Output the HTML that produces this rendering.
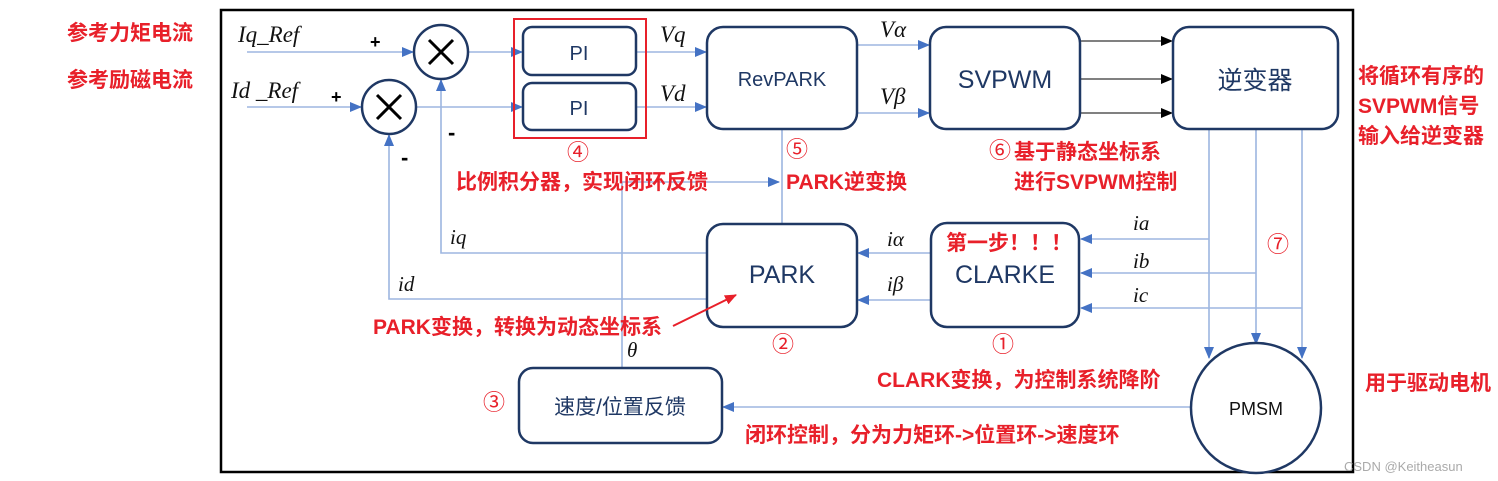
<!DOCTYPE html>
<html><head><meta charset="utf-8"><style>
html,body{margin:0;padding:0;background:#fff;}
svg{display:block;}
.red{fill:#e8202a;font-weight:bold;font-size:21px;font-family:"Liberation Sans","Noto Sans CJK SC",sans-serif;}
.it{font-family:"Liberation Serif",serif;font-style:italic;fill:#111;}
.box{fill:#fff;stroke:#1f3864;stroke-width:2.5;}
.bl{stroke:#9db6e0;stroke-width:1.6;fill:none;}
.lbl{fill:#1f3864;font-family:"Liberation Sans","Noto Sans CJK SC",sans-serif;}
.num{fill:#e8202a;font-size:22px;font-family:"Liberation Sans","Noto Sans CJK SC",sans-serif;}
</style></head><body>
<svg width="1498" height="481" viewBox="0 0 1498 481" xmlns="http://www.w3.org/2000/svg">
<defs>
<marker id="a" markerWidth="12" markerHeight="12" refX="11" refY="6" orient="auto" markerUnits="userSpaceOnUse"><path d="M0,1 L12,6 L0,11 Z" fill="#4472c4"/></marker>
<marker id="k" markerWidth="12" markerHeight="12" refX="11" refY="6" orient="auto" markerUnits="userSpaceOnUse"><path d="M0,1 L12,6 L0,11 Z" fill="#000"/></marker>
<marker id="r" markerWidth="12" markerHeight="12" refX="11" refY="6" orient="auto" markerUnits="userSpaceOnUse"><path d="M0,1 L12,6 L0,11 Z" fill="#e8202a"/></marker>
</defs>
<rect x="221" y="10" width="1132" height="462" fill="none" stroke="#000" stroke-width="2.5"/>

<line class="bl" x1="247" y1="52" x2="413" y2="52" marker-end="url(#a)"/>
<line class="bl" x1="247" y1="107" x2="361" y2="107" marker-end="url(#a)"/>
<line class="bl" x1="468" y1="52" x2="522" y2="52" marker-end="url(#a)"/>
<line class="bl" x1="416" y1="107" x2="522" y2="107" marker-end="url(#a)"/>
<line class="bl" x1="636" y1="52" x2="706" y2="52" marker-end="url(#a)"/>
<line class="bl" x1="636" y1="107" x2="706" y2="107" marker-end="url(#a)"/>
<line class="bl" x1="857" y1="45" x2="929" y2="45" marker-end="url(#a)"/>
<line class="bl" x1="857" y1="113" x2="929" y2="113" marker-end="url(#a)"/>
<line x1="1080" y1="41" x2="1172" y2="41" stroke="#000" stroke-width="1" marker-end="url(#k)"/>
<line x1="1080" y1="79" x2="1172" y2="79" stroke="#000" stroke-width="1" marker-end="url(#k)"/>
<line x1="1080" y1="113" x2="1172" y2="113" stroke="#000" stroke-width="1" marker-end="url(#k)"/>
<line class="bl" x1="1209" y1="129" x2="1209" y2="358" marker-end="url(#a)"/>
<line class="bl" x1="1256" y1="129" x2="1256" y2="344" marker-end="url(#a)"/>
<line class="bl" x1="1302" y1="129" x2="1302" y2="358" marker-end="url(#a)"/>
<line class="bl" x1="1209" y1="239" x2="1081" y2="239" marker-end="url(#a)"/>
<line class="bl" x1="1256" y1="273" x2="1081" y2="273" marker-end="url(#a)"/>
<line class="bl" x1="1302" y1="308" x2="1081" y2="308" marker-end="url(#a)"/>
<line class="bl" x1="930" y1="253" x2="858" y2="253" marker-end="url(#a)"/>
<line class="bl" x1="930" y1="300" x2="858" y2="300" marker-end="url(#a)"/>
<polyline class="bl" points="707,253 441,253 441,80" marker-end="url(#a)"/>
<polyline class="bl" points="707,299 389,299 389,135" marker-end="url(#a)"/>
<polyline class="bl" points="622,368 622,182 779,182" marker-end="url(#a)"/>
<line class="bl" x1="782" y1="129" x2="782" y2="224"/>
<line class="bl" x1="1190" y1="407" x2="723" y2="407" marker-end="url(#a)"/>

<circle cx="441" cy="52" r="27" fill="#fff" stroke="#1f3864" stroke-width="2.5"/>
<path d="M429,40 L453,64 M453,40 L429,64" stroke="#000" stroke-width="3"/>
<circle cx="389" cy="107" r="27" fill="#fff" stroke="#1f3864" stroke-width="2.5"/>
<path d="M377,95 L401,119 M401,95 L377,119" stroke="#000" stroke-width="3"/>

<rect x="514" y="19" width="132" height="119" fill="none" stroke="#e8202a" stroke-width="2"/>
<rect class="box" x="523" y="27" width="113" height="48" rx="9"/>
<rect class="box" x="523" y="83" width="113" height="47" rx="9"/>
<rect class="box" x="707" y="27" width="150" height="102" rx="16"/>
<rect class="box" x="930" y="27" width="150" height="102" rx="16"/>
<rect class="box" x="1173" y="27" width="165" height="102" rx="16"/>
<rect class="box" x="707" y="224" width="150" height="103" rx="16"/>
<rect class="box" x="931" y="223" width="148" height="104" rx="16"/>
<rect class="box" x="519" y="368" width="203" height="75" rx="14"/>
<circle cx="1256" cy="408" r="65" fill="#fff" stroke="#1f3864" stroke-width="2.5"/>

<text class="lbl" x="579" y="60" font-size="20" text-anchor="middle">PI</text>
<text class="lbl" x="579" y="115" font-size="20" text-anchor="middle">PI</text>
<text class="lbl" x="782" y="86" font-size="20" text-anchor="middle">RevPARK</text>
<text class="lbl" x="1005" y="88" font-size="25" text-anchor="middle">SVPWM</text>
<text class="lbl" x="1255" y="89" font-size="25" text-anchor="middle">逆变器</text>
<text class="lbl" x="782" y="283" font-size="25" text-anchor="middle">PARK</text>
<text class="lbl" x="1005" y="283" font-size="25" text-anchor="middle">CLARKE</text>
<text class="lbl" x="620" y="414" font-size="21" text-anchor="middle">速度/位置反馈</text>
<text x="1256" y="415" font-size="18" text-anchor="middle" fill="#111" font-family="Liberation Sans,sans-serif">PMSM</text>

<text class="it" x="238" y="42" font-size="23">Iq_Ref</text>
<text class="it" x="231" y="98" font-size="23">Id _Ref</text>
<text x="370" y="48" font-size="18" font-family="Liberation Sans,sans-serif" font-weight="bold">+</text>
<text x="331" y="103" font-size="18" font-family="Liberation Sans,sans-serif" font-weight="bold">+</text>
<text x="448" y="140" font-size="22" font-family="Liberation Sans,sans-serif" font-weight="bold">-</text>
<text x="401" y="165" font-size="22" font-family="Liberation Sans,sans-serif" font-weight="bold">-</text>
<text class="it" x="660" y="42" font-size="23">Vq</text>
<text class="it" x="660" y="101" font-size="23">Vd</text>
<text class="it" x="880" y="37" font-size="23">Vα</text>
<text class="it" x="880" y="104" font-size="23">Vβ</text>
<text class="it" x="450" y="244" font-size="21">iq</text>
<text class="it" x="398" y="291" font-size="21">id</text>
<text class="it" x="627" y="357" font-size="21">θ</text>
<text class="it" x="887" y="246" font-size="21">iα</text>
<text class="it" x="887" y="291" font-size="21">iβ</text>
<text class="it" x="1133" y="230" font-size="21">ia</text>
<text class="it" x="1133" y="268" font-size="21">ib</text>
<text class="it" x="1133" y="302" font-size="21">ic</text>

<text class="num" x="578" y="160" text-anchor="middle">④</text>
<text class="num" x="797" y="157" text-anchor="middle">⑤</text>
<text class="num" x="1000" y="158" text-anchor="middle">⑥</text>
<text class="num" x="1278" y="252" text-anchor="middle">⑦</text>
<text class="num" x="783" y="352" text-anchor="middle">②</text>
<text class="num" x="1003" y="352" text-anchor="middle">①</text>
<text class="num" x="494" y="410" text-anchor="middle">③</text>

<text class="red" x="67" y="40">参考力矩电流</text>
<text class="red" x="67" y="87">参考励磁电流</text>
<text class="red" x="456" y="189">比例积分器，实现闭环反馈</text>
<text class="red" x="786" y="189">PARK逆变换</text>
<text class="red" x="1014" y="159">基于静态坐标系</text>
<text class="red" x="1014" y="189">进行SVPWM控制</text>
<text class="red" x="946" y="250" font-size="20">第一步！！！</text>
<text class="red" x="373" y="334">PARK变换，转换为动态坐标系</text>
<line x1="673" y1="326" x2="736" y2="295" stroke="#e8202a" stroke-width="2" marker-end="url(#r)"/>
<text class="red" x="877" y="387">CLARK变换，为控制系统降阶</text>
<text class="red" x="745" y="442">闭环控制，分为力矩环-&gt;位置环-&gt;速度环</text>
<text class="red" x="1358" y="83">将循环有序的</text>
<text class="red" x="1358" y="113">SVPWM信号</text>
<text class="red" x="1358" y="143">输入给逆变器</text>
<text class="red" x="1365" y="390">用于驱动电机</text>
<text x="1344" y="471" font-size="13" fill="#aaa" font-family="Liberation Sans,sans-serif">CSDN @Keitheasun</text>
</svg>
</body></html>
